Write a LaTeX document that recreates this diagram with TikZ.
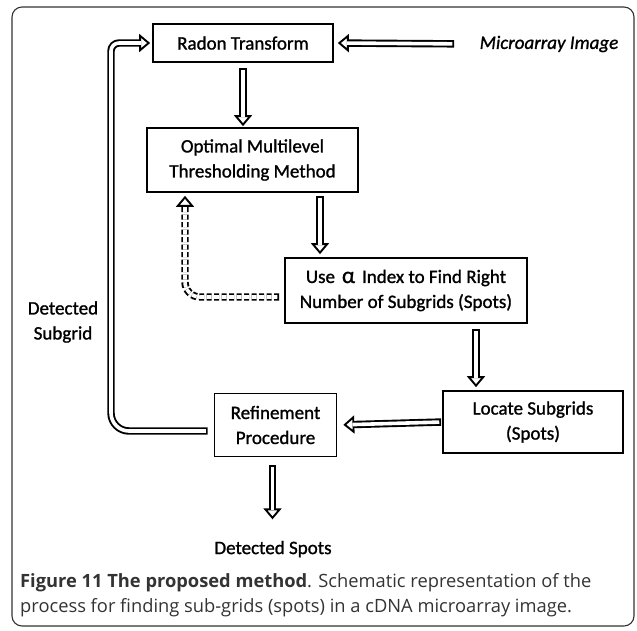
\documentclass[tikz,border=0pt]{standalone}
\usepackage{fontspec}
\setmainfont{Carlito}[FakeBold=1.2]
\newfontfamily\capfont{Open Sans}
\usetikzlibrary{arrows.meta}

\tikzset{
  stepbox/.style={draw, line width=1.7pt, align=center, inner sep=0pt},
  % Doppelpfeil: schwarzer Schaft, weisser Kern
  dbl/.style 2 args={line width=7.4pt, shorten <=#1, shorten >=#2,
    -{Triangle[open, fill=white, length=11pt, width=18pt, line width=1.9pt]},
    postaction={draw=white, line width=3.6pt, -, dash phase=1.9pt,
      shorten <=#1+1.9pt, shorten >=#2+9pt}},
  lbl/.style={align=center}
}

\begin{document}
\begin{tikzpicture}[x=1pt, y=-1pt, font=\fontsize{19}{25}\selectfont]
    \useasboundingbox (0,0) rectangle (637,630);

    % Rahmen
    \draw[rounded corners=10pt, line width=1.1pt, black!80] (12,7) rectangle (634,626);

    % Kaesten
    \node[stepbox, minimum width=180pt, minimum height=38pt] (radon) at (243,43) {Radon Transform};
    \node[stepbox, minimum width=211pt, minimum height=64pt] (optimal) at (252.5,160)
        {Optimal Multilevel\\Thresholding Method};
    \node[stepbox, minimum width=242pt, minimum height=65pt] (use) at (406,290.5)
        {Use\hspace{7pt}{\fontsize{23}{25}\selectfont α}\hspace{7pt}Index to Find Right\\Number of Subgrids (Spots)};
    \node[stepbox, minimum width=180pt, minimum height=62pt] (locate) at (533,422)
        {Locate Subgrids\\(Spots)};
    \node[stepbox, minimum width=122pt, minimum height=63pt] (refine) at (275.5,425)
        {Refinement\\Procedure};

    % Texte
    \node[lbl, font=\fontsize{19}{25}\selectfont\itshape] (micro) at (549,44) {Microarray Image};
    \node[lbl] (subgrid) at (63,322) {Detected\\Subgrid};
    \node[lbl] (spots) at (273,549) {Detected Spots};

    % Hilfspunkte
    \coordinate (a1) at ([xshift=67.5pt]optimal.south);
    \coordinate (a2) at ([xshift=70pt]use.south);
    \coordinate (fb) at ([yshift=-6pt]refine.west);
    \coordinate (dl) at ([yshift=-6.5pt]use.west);

    % Pfeile
    \draw[dbl={22pt}{4pt}] (micro.west) -- (radon.east);
    \draw[dbl={5pt}{1pt}] (radon.south) -- (radon.south |- optimal.north);
    \draw[dbl={3pt}{3pt}] (a1) -- (a1 |- use.north);
    \draw[dbl={5pt}{3pt}] (a2) -- (a2 |- locate.north);
    \draw[dbl={1pt}{6pt}] (locate.west) -- (refine.east);
    \draw[dbl={8pt}{18pt}] ([xshift=-3pt]refine.south) -- ([xshift=-3pt]refine.south |- spots.north);

    % Rueckkopplung
    \draw[dbl={6pt}{2pt}, rounded corners=18pt] (fb) -| (111,200)
        [rounded corners=8pt] |- (radon.west);
    \draw[dbl={5pt}{3pt}, dash pattern=on 5pt off 2.5pt, rounded corners=15pt]
        (dl) -| (185,0 |- optimal.south);

    % Bildunterschrift
    \node[anchor=north west, align=left, text=black!80, inner sep=0pt,
          font=\capfont\fontsize{18.3}{25}\selectfont] (cap) at (20,573)
        {\textbf{Figure 11 The proposed method}. Schematic representation of the\\
         process for finding sub-grids (spots) in a cDNA microarray image.};
\end{tikzpicture}
\end{document}
